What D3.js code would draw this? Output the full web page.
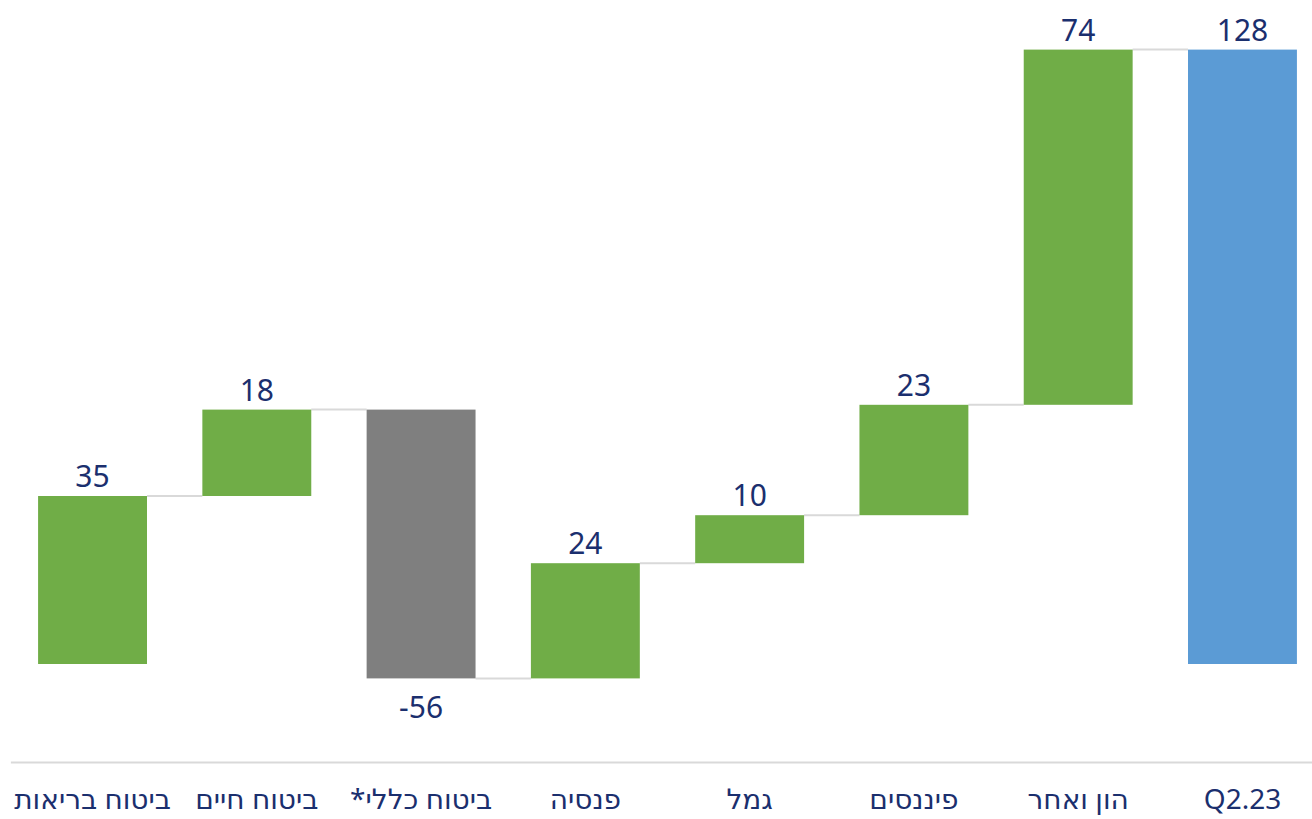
<!DOCTYPE html>
<html>
<head>
<meta charset="utf-8">
<script src="https://cdn.jsdelivr.net/npm/d3@7"></script>
<style>
  html, body { margin: 0; padding: 0; background: #fff; }
</style>
</head>
<body>
<div id="chart"></div>
<script>
"use strict";

// data
const categories = ["ביטוח בריאות", "ביטוח חיים", "ביטוח כללי*", "פנסיה", "גמל", "פיננסים", "הון ואחר", "Q2.23"];
const changes = [35, 18, -56, 24, 10, 23, 74];
const totalValue = 128;

const W = 1312, H = 819;
const textColor = "#1B2F6E";

const svg = d3.select("#chart").append("svg")
  .attr("width", W)
  .attr("height", H);

// build waterfall steps
let running = 0;
const steps = changes.map((v, i) => {
  const start = running;
  running += v;
  return { cat: categories[i], start: start, end: running, value: v, kind: v >= 0 ? "up" : "down" };
});
steps.push({ cat: categories[7], start: 0, end: totalValue, value: totalValue, kind: "total" });

const x = d3.scaleBand()
  .domain(categories)
  .range([10.4, 1324.6])
  .paddingInner(0.337)
  .paddingOuter(0.1685);

const y = d3.scaleLinear()
  .domain([0, 128])
  .range([664, 49.6]);

const fill = { up: "#70AD47", down: "#7F7F7F", total: "#5B9BD5" };

// connectors
steps.slice(0, -1).forEach((s, i) => {
  svg.append("line")
    .attr("x1", x(s.cat) + x.bandwidth())
    .attr("x2", x(steps[i + 1].cat))
    .attr("y1", y(s.end))
    .attr("y2", y(s.end))
    .attr("stroke", "#D9D9D9")
    .attr("stroke-width", 2);
});

// bars
svg.selectAll("rect.bar")
  .data(steps)
  .join("rect")
  .attr("class", "bar")
  .attr("x", d => x(d.cat))
  .attr("width", x.bandwidth())
  .attr("y", d => y(Math.max(d.start, d.end)))
  .attr("height", d => Math.abs(y(d.start) - y(d.end)))
  .attr("fill", d => fill[d.kind]);

// value labels
svg.selectAll("text.val")
  .data(steps)
  .join("text")
  .attr("class", "val")
  .attr("x", d => x(d.cat) + x.bandwidth() / 2)
  .attr("y", d => d.value >= 0 ? y(Math.max(d.start, d.end)) - 9 : y(Math.min(d.start, d.end)) + 40)
  .attr("text-anchor", "middle")
  .attr("font-family", "'Noto Sans', 'DejaVu Sans', sans-serif")
  .attr("font-size", 30)
  .attr("fill", textColor)
  .text(d => d.value);

// x axis
const axis = svg.append("g")
  .attr("transform", "translate(0,762)")
  .call(d3.axisBottom(x).tickSize(0).tickPadding(27));

axis.select(".domain")
  .attr("stroke", "#D9D9D9")
  .attr("stroke-width", 2);

axis.selectAll(".tick text")
  .attr("font-family", "'Noto Sans', 'DejaVu Sans', sans-serif")
  .attr("font-size", 28)
  .attr("fill", textColor)
  .attr("direction", d => d === "Q2.23" ? "ltr" : "rtl");
</script>
</body>
</html>
